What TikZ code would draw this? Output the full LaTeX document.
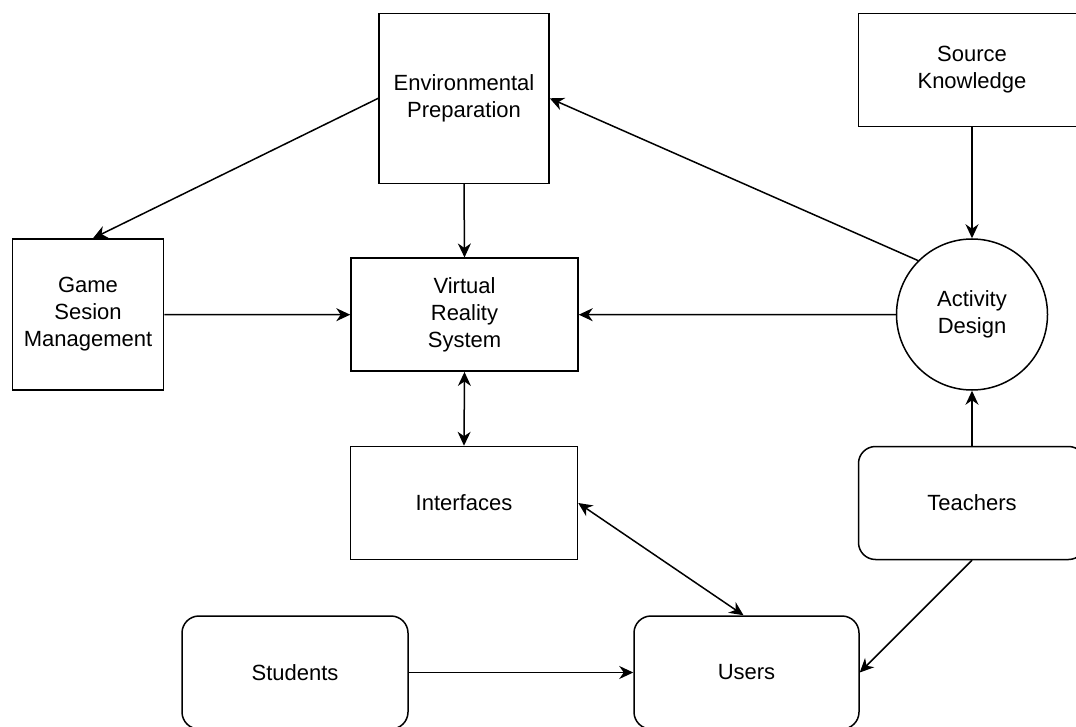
\documentclass[tikz,border=0pt]{standalone}
\usepackage{fontspec}
\setmainfont{Liberation Sans}
\usetikzlibrary{arrows.meta}
\begin{document}
\begin{tikzpicture}[x=1pt,y=-1pt,
  every node/.style={font=\fontsize{22}{27}\selectfont, align=center, inner sep=0pt},
  box/.style={draw, line width=1.5pt, rectangle},
  rbox/.style={draw, line width=1.5pt, rectangle, rounded corners=17pt},
  circ/.style={draw, line width=1.5pt, circle, minimum size=151pt},
  conn/.style={line width=1.5pt, -{Stealth[length=14pt,width=13pt,inset=4.5pt]}},
  bconn/.style={line width=1.5pt, {Stealth[length=14pt,width=13pt,inset=4.5pt]}-{Stealth[length=14pt,width=13pt,inset=4.5pt]}}]
\clip (0,0) rectangle (1076,727);
\fill[white] (0,0) rectangle (1076,727);
\node[box, minimum width=170pt, minimum height=170pt] (EP) at (464,98.3) {Environmental\\Preparation};
\node[box, minimum width=227pt, minimum height=113pt] (SK) at (972,70) {Source\\Knowledge};
\node[box, minimum width=151pt, minimum height=151pt] (GSM) at (88,314.5) {Game\\Sesion\\Management};
\node[box, minimum width=227pt, minimum height=113pt] (VR) at (464.5,314.7) {Virtual\\Reality\\System};
\node[circ] (AD) at (972,314.5) {Activity\\Design};
\node[box, minimum width=227pt, minimum height=113pt] (IF) at (464,503) {Interfaces};
\node[rbox, minimum width=227pt, minimum height=113pt] (TE) at (972,503) {Teachers};
\node[rbox, minimum width=226pt, minimum height=113pt] (ST) at (295,672.5) {Students};
\node[rbox, minimum width=225pt, minimum height=113pt] (US) at (746.5,672.5) {Users};
\draw[conn] (EP.west) -- ([xshift=5pt]GSM.north);
\draw[conn] (EP.south) -- (VR.north);
\draw[conn] (AD.135) -- (EP.east);
\draw[conn] (SK.south) -- (AD.north);
\draw[conn] (AD.west) -- (VR.east);
\draw[conn] (GSM.east) -- (VR.west);
\draw[bconn] (VR.south) -- (IF.north);
\draw[bconn] (IF.east) -- ([xshift=-3pt]US.north);
\draw[conn] (ST.east) -- (US.west);
\draw[conn] (TE.north) -- (AD.south);
\draw[conn] (TE.south) -- (US.east);
\end{tikzpicture}
\end{document}
